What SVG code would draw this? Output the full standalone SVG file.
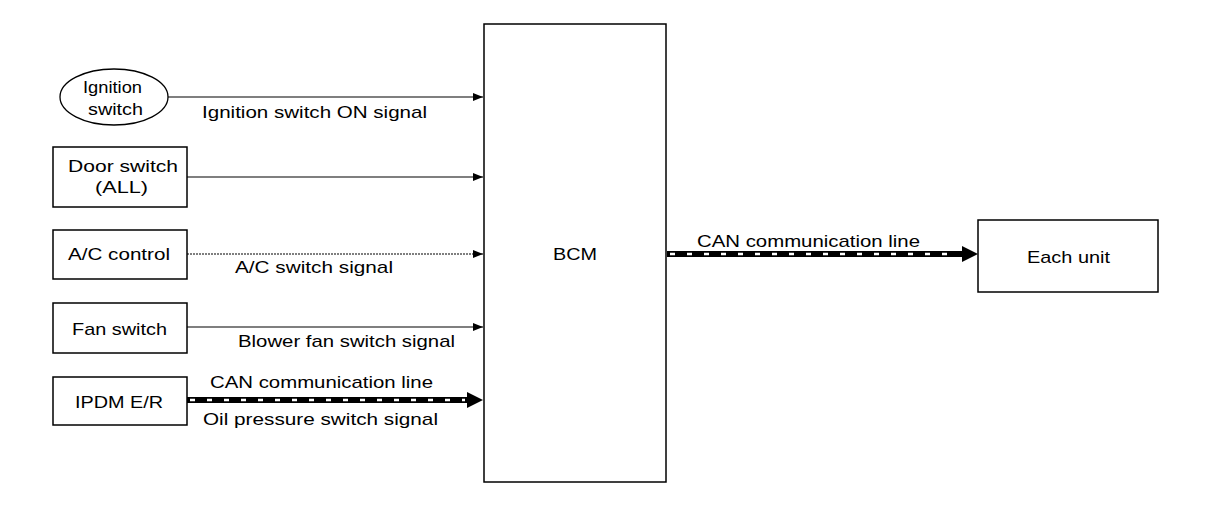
<svg xmlns="http://www.w3.org/2000/svg" width="1216" height="512" viewBox="0 0 1216 512">
<style>
.box{fill:#fff;stroke:#000;stroke-width:1.5}
.t{font-family:"Liberation Sans",Arial,sans-serif;font-size:17px;fill:#000}
.thin{stroke:#000;stroke-width:1.2;fill:none}
.can{stroke:#000;stroke-width:6;fill:none}
.canw{stroke:#fff;stroke-width:2.5;fill:none;stroke-dasharray:5 12}
</style>
<defs>
<marker id="ah" markerWidth="10" markerHeight="8" refX="10" refY="4" orient="auto" markerUnits="userSpaceOnUse"><path d="M0,0 L10,4 L0,8 Z" fill="#000"/></marker>
</defs>
<rect width="1216" height="512" fill="#fff"/>
<g id="connectors">
<line class="thin" x1="168" y1="97" x2="483" y2="97" stroke-width="2" marker-end="url(#ah)"/>
<line class="thin" x1="187" y1="177" x2="483" y2="177" marker-end="url(#ah)"/>
<line class="thin" x1="187" y1="254" x2="483" y2="254" stroke-dasharray="2 1" marker-end="url(#ah)"/>
<line class="thin" x1="187" y1="327" x2="483" y2="327" marker-end="url(#ah)"/>
<line class="can" x1="187" y1="400" x2="468" y2="400"/>
<line class="canw" x1="190" y1="400" x2="465" y2="400"/>
<path d="M467,392 L483,400 L467,408 Z" fill="#000"/>
<line class="can" x1="667" y1="254" x2="963" y2="254"/>
<line class="canw" x1="670" y1="254" x2="958" y2="254"/>
<path d="M962,246 L978,254 L962,262 Z" fill="#000"/>
<text class="t" x="202" y="118" textLength="225" lengthAdjust="spacingAndGlyphs">Ignition switch ON signal</text>
<text class="t" x="235" y="273" textLength="158" lengthAdjust="spacingAndGlyphs">A/C switch signal</text>
<text class="t" x="238" y="347" textLength="217" lengthAdjust="spacingAndGlyphs">Blower fan switch signal</text>
<text class="t" x="210" y="388" textLength="223" lengthAdjust="spacingAndGlyphs">CAN communication line</text>
<text class="t" x="203" y="425" textLength="235" lengthAdjust="spacingAndGlyphs">Oil pressure switch signal</text>
<text class="t" x="697" y="247" textLength="223" lengthAdjust="spacingAndGlyphs">CAN communication line</text>
</g>
<g id="ignition">
<ellipse cx="114" cy="97" rx="54" ry="28" fill="#fff" stroke="#000" stroke-width="1.3"/>
<text class="t" x="83" y="93" textLength="59" lengthAdjust="spacingAndGlyphs">Ignition</text>
<text class="t" x="88" y="115" textLength="55" lengthAdjust="spacingAndGlyphs">switch</text>
</g>
<g id="door">
<rect class="box" x="53" y="147" width="134" height="60"/>
<text class="t" x="68" y="172" textLength="110" lengthAdjust="spacingAndGlyphs">Door switch</text>
<text class="t" x="95" y="193" textLength="53" lengthAdjust="spacingAndGlyphs">(ALL)</text>
</g>
<g id="ac">
<rect class="box" x="53" y="230" width="134" height="49"/>
<text class="t" x="68" y="260" textLength="102" lengthAdjust="spacingAndGlyphs">A/C control</text>
</g>
<g id="fan">
<rect class="box" x="53" y="303" width="134" height="50"/>
<text class="t" x="72" y="335" textLength="95" lengthAdjust="spacingAndGlyphs">Fan switch</text>
</g>
<g id="ipdm">
<rect class="box" x="53" y="377" width="134" height="48"/>
<text class="t" x="75" y="408" textLength="88" lengthAdjust="spacingAndGlyphs">IPDM E/R</text>
</g>
<g id="bcm">
<rect class="box" x="484" y="24" width="182" height="458"/>
<text class="t" x="553" y="260" textLength="44" lengthAdjust="spacingAndGlyphs">BCM</text>
</g>
<g id="each">
<rect class="box" x="978" y="220" width="180" height="72"/>
<text class="t" x="1027" y="263" textLength="83" lengthAdjust="spacingAndGlyphs">Each unit</text>
</g>
</svg>
